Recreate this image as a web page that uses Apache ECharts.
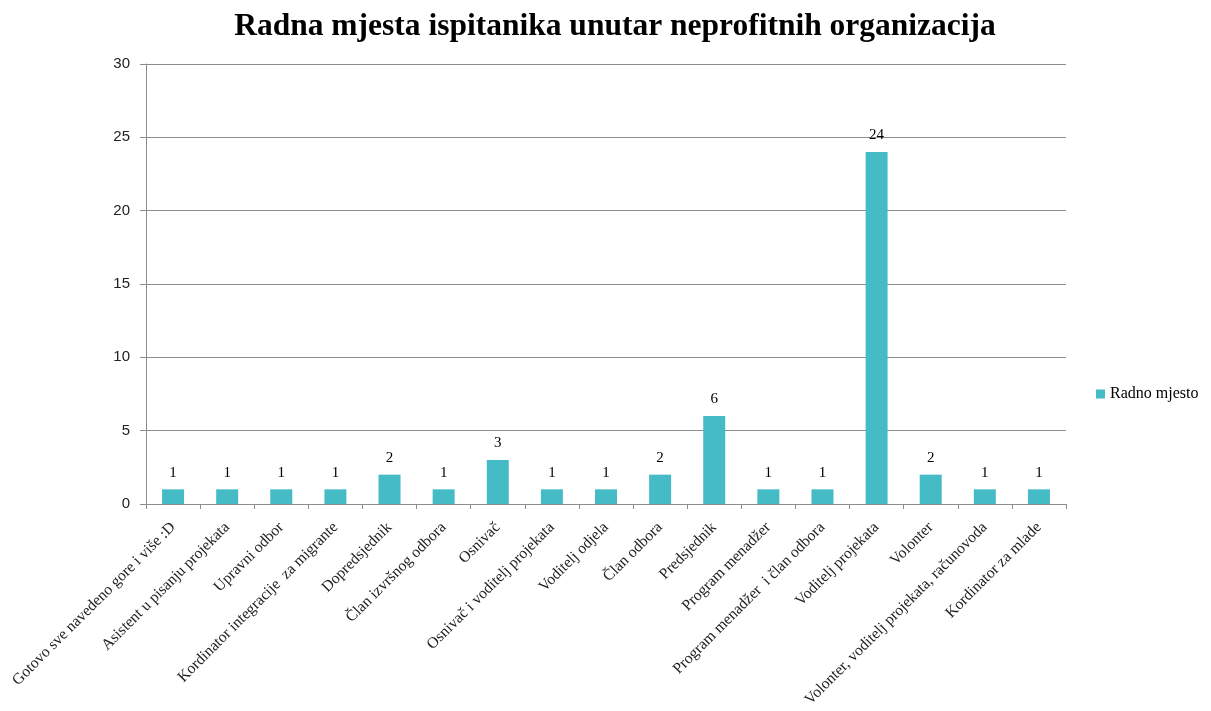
<!DOCTYPE html>
<html><head><meta charset="utf-8">
<script src="https://cdn.jsdelivr.net/npm/echarts@6/dist/echarts.min.js"></script>
<style>html,body{margin:0;padding:0;background:#fff}#c{width:1211px;height:711px}</style>
</head><body><div id="c"></div>
<script>
const categories = [
  "Gotovo sve navedeno gore i više :D",
  "Asistent u pisanju projekata",
  "Upravni odbor",
  "Kordinator integracije  za migrante",
  "Dopredsjednik",
  "Član izvršnog odbora",
  "Osnivač",
  "Osnivač i voditelj projekata",
  "Voditelj odjela",
  "Član odbora",
  "Predsjednik",
  "Program menadžer",
  "Program menadžer  i član odbora",
  "Voditelj projekata",
  "Volonter",
  "Volonter, voditelj projekata, računovoda",
  "Kordinator za mlade"
];
const values = [1,1,1,1,2,1,3,1,1,2,6,1,1,24,2,1,1];
const seriesName = "Radno mjesto";
const yTicks = {min:0, max:30, interval:5};

const chart = echarts.init(document.getElementById('c'));
chart.setOption({
  animation:false,
  title:{text:"Radna mjesta ispitanika unutar neprofitnih organizacija", left:610, top:6, textAlign:'center',
    textStyle:{fontFamily:'Liberation Serif', fontWeight:'bold', fontSize:31.5, color:'#000'}},
  legend:{orient:'vertical', left:1091, top:381, itemWidth:9, itemHeight:9, itemGap:5,
    icon:'rect', textStyle:{fontFamily:'Liberation Serif', fontSize:16, color:'#000'}, data:[seriesName]},
  grid:{left:146, right:145, top:64, bottom:207, containLabel:false},
  xAxis:{type:'category', data:categories,
    axisLine:{lineStyle:{color:'#8c8c8c'}},
    axisTick:{show:true, alignWithLabel:false, length:5, lineStyle:{color:'#8c8c8c'}},
    axisLabel:{rotate:45, interval:0, margin:21, fontFamily:'Liberation Serif', fontSize:15.6, color:'#222'}},
  yAxis:{type:'value', min:yTicks.min, max:yTicks.max, interval:yTicks.interval,
    axisLine:{show:true, lineStyle:{color:'#8c8c8c'}},
    axisTick:{show:true, length:6, lineStyle:{color:'#8c8c8c'}},
    splitLine:{lineStyle:{color:'#8c8c8c'}},
    axisLabel:{margin:16, fontFamily:'Liberation Sans', fontSize:15, color:'#222'}},
  series:[{name:seriesName, type:'bar', data:values, barWidth:22,
    itemStyle:{color:'#45bbc6'},
    label:{show:true, position:'top', distance:9, fontFamily:'Liberation Serif', fontSize:15, color:'#000'}}]
});
</script></body></html>
